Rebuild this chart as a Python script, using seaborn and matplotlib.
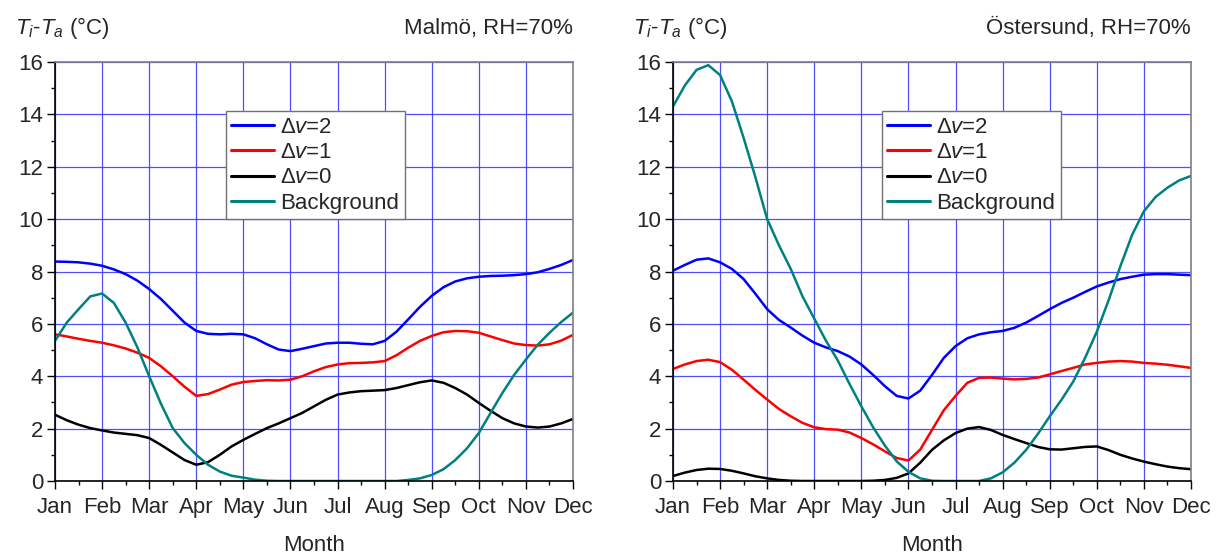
import numpy as np
import pandas as pd
import matplotlib
matplotlib.use("Agg")
import matplotlib.pyplot as plt
import seaborn as sns
from matplotlib.ticker import MultipleLocator

sns.set_style("white")
plt.rcParams['font.family'] = ['Liberation Sans', 'DejaVu Sans']
plt.rcParams['mathtext.fontset'] = 'custom'
plt.rcParams['mathtext.rm'] = 'Liberation Sans'
plt.rcParams['mathtext.it'] = 'Liberation Sans:italic'

# ---- data (quarter-month resolution, month index 0=Jan .. 11=Dec) ----
month_labels = ["Jan", "Feb", "Mar", "Apr", "May", "Jun", "Jul", "Aug", "Sep", "Oct", "Nov", "Dec"]
month_pos = [0, 0.25, 0.5, 0.75, 1, 1.25, 1.5, 1.75, 2, 2.25, 2.5, 2.75, 3, 3.25, 3.5, 3.75,
             4, 4.25, 4.5, 4.75, 5, 5.25, 5.5, 5.75, 6, 6.25, 6.5, 6.75, 7, 7.25, 7.5, 7.75,
             8, 8.25, 8.5, 8.75, 9, 9.25, 9.5, 9.75, 10, 10.25, 10.5, 10.75, 11]

series_names = ["Δv=2", "Δv=1", "Δv=0", "Background"]
series_labels = [r"$\Delta v$=2", r"$\Delta v$=1", r"$\Delta v$=0", "Background"]
series_colors = ["#0000ff", "#ff0000", "#000000", "#008080"]

malmo_dv2 = [8.38, 8.37, 8.35, 8.3, 8.22, 8.08, 7.9, 7.65, 7.33, 6.95, 6.5, 6.05, 5.73, 5.62, 5.6, 5.62,
             5.6, 5.45, 5.22, 5.02, 4.96, 5.05, 5.15, 5.25, 5.28, 5.28, 5.24, 5.22, 5.35, 5.7, 6.17, 6.65,
             7.07, 7.4, 7.62, 7.74, 7.8, 7.83, 7.84, 7.86, 7.9, 7.97, 8.1, 8.25, 8.44]
malmo_dv1 = [5.6, 5.52, 5.43, 5.35, 5.28, 5.18, 5.06, 4.9, 4.7, 4.38, 4.0, 3.6, 3.25, 3.32, 3.49, 3.68,
             3.78, 3.82, 3.85, 3.84, 3.87, 4.0, 4.19, 4.35, 4.45, 4.5, 4.51, 4.53, 4.58, 4.8, 5.09, 5.35,
             5.54, 5.68, 5.73, 5.72, 5.66, 5.52, 5.38, 5.25, 5.19, 5.17, 5.22, 5.36, 5.58]
malmo_dv0 = [2.53, 2.32, 2.15, 2.02, 1.93, 1.85, 1.8, 1.75, 1.64, 1.38, 1.09, 0.8, 0.62, 0.72, 1.0, 1.32,
             1.57, 1.8, 2.02, 2.2, 2.4, 2.6, 2.85, 3.1, 3.3, 3.38, 3.43, 3.45, 3.47, 3.55, 3.66, 3.77,
             3.84, 3.75, 3.55, 3.3, 2.98, 2.68, 2.4, 2.2, 2.08, 2.04, 2.08, 2.2, 2.37]
malmo_bg = [5.35, 6.05, 6.56, 7.05, 7.16, 6.8, 6.05, 5.1, 4.0, 2.95, 2.02, 1.45, 1.0, 0.62, 0.36, 0.2,
            0.13, 0.05, 0.01, 0, 0, 0, 0, 0, 0, 0, 0, 0, 0, 0, 0.04, 0.1,
            0.23, 0.45, 0.8, 1.25, 1.83, 2.6, 3.36, 4.05, 4.64, 5.2, 5.66, 6.07, 6.43]

ost_dv2 = [8.03, 8.25, 8.45, 8.5, 8.35, 8.1, 7.71, 7.15, 6.56, 6.15, 5.86, 5.55, 5.28, 5.1, 4.96, 4.75,
           4.45, 4.05, 3.62, 3.25, 3.15, 3.45, 4.05, 4.7, 5.15, 5.45, 5.6, 5.68, 5.73, 5.85, 6.05, 6.3,
           6.56, 6.8, 7.0, 7.22, 7.43, 7.58, 7.71, 7.8, 7.88, 7.9, 7.9, 7.88, 7.86]
ost_dv1 = [4.28, 4.45, 4.58, 4.63, 4.54, 4.25, 3.87, 3.48, 3.11, 2.75, 2.47, 2.22, 2.05, 1.98, 1.96, 1.85,
           1.64, 1.4, 1.13, 0.88, 0.78, 1.2, 1.95, 2.7, 3.25, 3.75, 3.94, 3.95, 3.91, 3.88, 3.9, 3.95,
           4.07, 4.2, 4.32, 4.45, 4.51, 4.56, 4.58, 4.56, 4.51, 4.48, 4.44, 4.38, 4.32]
ost_dv0 = [0.19, 0.32, 0.42, 0.47, 0.46, 0.39, 0.29, 0.18, 0.1, 0.04, 0.01, 0, 0, 0, 0, 0,
           0, 0.01, 0.04, 0.12, 0.29, 0.7, 1.19, 1.55, 1.83, 2.0, 2.06, 1.95, 1.76, 1.6, 1.45, 1.3,
           1.21, 1.2, 1.25, 1.3, 1.32, 1.18, 1.0, 0.86, 0.74, 0.64, 0.55, 0.49, 0.45]
ost_bg = [14.3, 15.1, 15.7, 15.88, 15.5, 14.5, 13.1, 11.6, 10.0, 9.0, 8.1, 7.05, 6.2, 5.35, 4.6, 3.7,
          2.85, 2.05, 1.35, 0.75, 0.35, 0.1, 0.01, 0, 0, 0, 0, 0.1, 0.33, 0.7, 1.19, 1.8,
          2.47, 3.1, 3.8, 4.7, 5.7, 6.9, 8.2, 9.4, 10.3, 10.85, 11.2, 11.48, 11.65]

panels = [
    ("Malmö, RH=70%", [malmo_dv2, malmo_dv1, malmo_dv0, malmo_bg], (0.33, 0.883)),
    ("Östersund, RH=70%", [ost_dv2, ost_dv1, ost_dv0, ost_bg], (0.403, 0.883)),
]

fig = plt.figure(figsize=(12.2, 5.54), dpi=100)
axes_rects = [[55 / 1220, 73 / 554, 518 / 1220, 419 / 554],
              [673 / 1220, 73 / 554, 518 / 1220, 419 / 554]]

FS = 16
for rect, (title, vals, leg_anchor) in zip(axes_rects, panels):
    ax = fig.add_axes(rect)
    rows = []
    for name, v in zip(series_names, vals):
        for x, y in zip(month_pos, v):
            rows.append({"month": x, "value": y, "series": name})
    df = pd.DataFrame(rows)
    sns.lineplot(data=df, x="month", y="value", hue="series", hue_order=series_names,
                 palette=dict(zip(series_names, series_colors)), estimator=None,
                 sort=False, lw=1.8, ax=ax, legend=False)
    ax.set_xlim(0, 11)
    ax.set_ylim(0, 16)
    ax.set_xticks(range(12))
    ax.set_xticklabels(month_labels, fontsize=FS)
    ax.xaxis.set_minor_locator(MultipleLocator(0.5))
    ax.set_yticks(range(0, 17, 2))
    ax.set_yticklabels([str(v) for v in range(0, 17, 2)], fontsize=FS)
    ax.yaxis.set_minor_locator(MultipleLocator(1))
    ax.tick_params(which='major', direction='out', length=5.5, width=1, color='black', pad=3,
                   bottom=True, left=True)
    ax.tick_params(axis='x', which='major', pad=6)
    ax.tick_params(which='minor', direction='out', length=3, width=1, color='black',
                   bottom=True, left=True)
    ax.grid(True, which='major', color='#3030ff', lw=0.9, alpha=0.85)
    ax.set_axisbelow(True)
    for s in ['top', 'right']:
        ax.spines[s].set_color('#808080')
        ax.spines[s].set_linewidth(1.2)
    for s in ['left', 'bottom']:
        ax.spines[s].set_color('black')
        ax.spines[s].set_linewidth(1.2)
    ax.set_xlabel("Month", fontsize=FS, labelpad=12)
    ax.set_ylabel("")
    ax.text(-0.077, 1.08, r"$T_i$-$T_a$ (°C)", transform=ax.transAxes, fontsize=FS,
            ha='left', va='center')
    ax.text(1.0, 1.08, title, transform=ax.transAxes, fontsize=FS,
            ha='right', va='center')
    handles = [plt.Line2D([], [], color=c, lw=2.2) for c in series_colors]
    leg = ax.legend(handles, series_labels, loc='upper left', bbox_to_anchor=leg_anchor,
                    fontsize=FS, frameon=True, fancybox=False, framealpha=1,
                    edgecolor='#707070', handlelength=1.9, handletextpad=0.3,
                    labelspacing=0.2, borderpad=0.25, borderaxespad=0)
    leg.get_frame().set_linewidth(1.0)

fig.savefig("out.png", dpi=100)
